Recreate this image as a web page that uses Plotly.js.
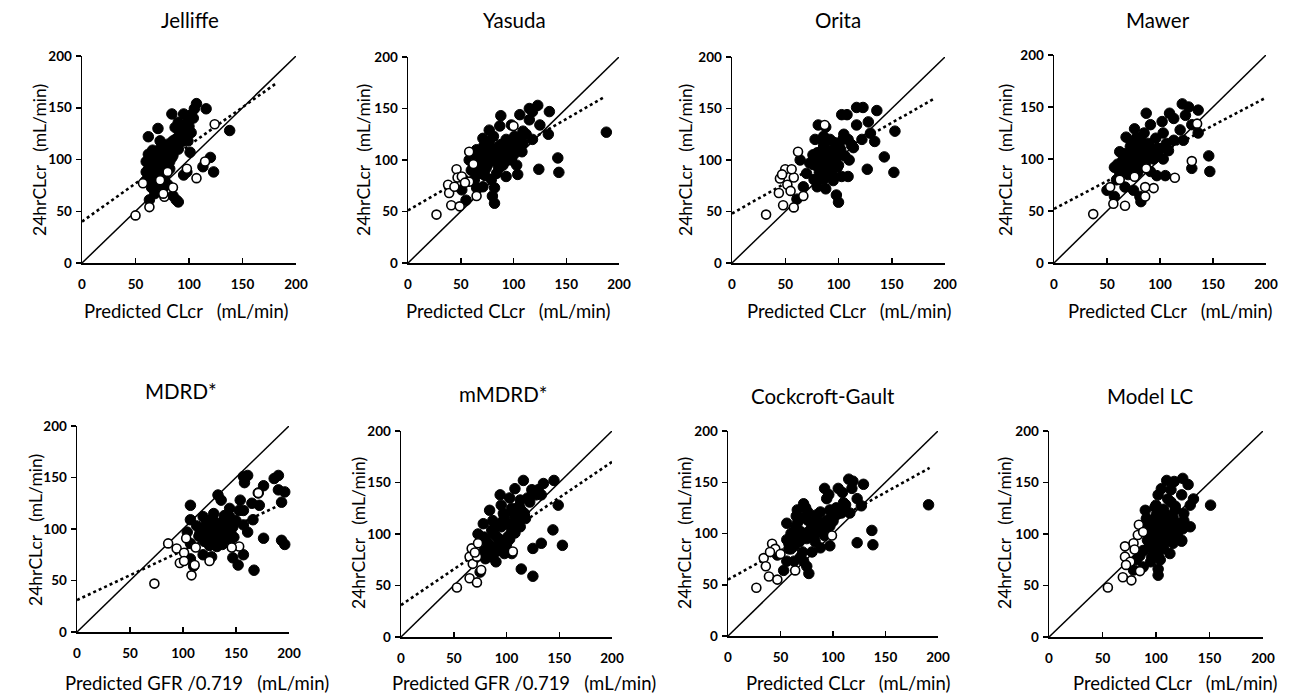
<!DOCTYPE html>
<html>
<head>
<meta charset="utf-8">
<script src="https://cdn.plot.ly/plotly-3.0.1.min.js"></script>
<style>html,body{margin:0;padding:0;background:#fff;}#chart{width:1290px;height:697px;}</style>
</head>
<body>
<div id="chart"></div>
<script>
// ---------------- DATA ----------------
var panelTitles = ["Jelliffe", "Yasuda", "Orita", "Mawer", "MDRD*", "mMDRD*", "Cockcroft-Gault", "Model LC"];
var xTitles = ["Predicted CLcr   (mL/min)", "Predicted CLcr   (mL/min)", "Predicted CLcr   (mL/min)", "Predicted CLcr   (mL/min)",
               "Predicted GFR /0.719   (mL/min)", "Predicted GFR /0.719   (mL/min)", "Predicted CLcr   (mL/min)", "Predicted CLcr   (mL/min)"];
var yTitle = "24hrCLcr   (mL/min)";
var tickVals = [0, 50, 100, 150, 200];
var identityX = [0, 200];
var identityY = [0, 200];

// Jelliffe
var jelliffeFilledX = [107,116,105,95,84,90,87,71,99,102,98,102,62,73,85,91,99,88,101,79,66,63,60,68,76,84,70,63,76,82,66,71,60,65,70,77,76,68,63,85,88,90,95,98,120,113,123,138,73,74,81,62,65,67,70,72,74,78,80,83,86,88,92,94,96,100,104,68,72,75,78,80,64,66,69,60,73,77,82,85,90,93];
var jelliffeFilledY = [154,149,149,144,144,136,131,130,136,143,128,126,122,118,118,123,118,112,107,109,109,102,98,99,99,102,93,93,90,91,86,83,80,73,77,80,73,67,61,65,61,59,85,88,102,93,88,128,106,112,115,105,100,95,103,97,110,104,96,108,115,120,125,130,122,132,140,88,85,78,86,76,90,80,75,88,92,100,98,104,110,117];
var jelliffeOpenX = [50,63,77,76,85,107,98,115,124,57,80,73];
var jelliffeOpenY = [46,54,64,67,73,82,91,98,134,77,88,80];
var jelliffeFitX = [0, 182];
var jelliffeFitY = [40, 174];

// Yasuda
var yasudaFilledX = [123,115,118,134,106,88,115,125,77,87,98,109,118,133,188,71,81,93,101,65,74,84,93,103,109,58,68,79,87,98,103,142,124,143,104,93,84,65,74,79,82,80,82,71,65,55,51,63,68,90,
                     62,66,70,72,76,78,82,85,88,90,95,97,100,105,108,112,70,75,60,86,92,96,73,77];
var yasudaFilledY = [153,150,147,147,144,143,139,134,129,133,134,128,120,125,127,121,123,120,123,110,107,112,110,113,116,100,97,100,102,100,95,102,91,88,86,84,87,91,92,81,73,65,58,74,73,61,71,81,87,95,
                     95,104,100,114,96,110,105,97,115,107,111,118,105,120,108,125,88,102,90,92,100,103,85,118];
var yasudaOpenX = [27,41,49,38,39,44,46,47,51,58,62,65,100,58,54];
var yasudaOpenY = [47,56,55,76,68,74,91,83,84,108,96,65,133,79,78];
var yasudaFitX = [0, 186];
var yasudaFitY = [51, 161];

// Orita
var oritaFilledX = [123,117,136,103,108,117,128,81,88,105,109,122,130,134,153,78,86,92,98,80,89,114,106,98,143,152,127,109,103,94,83,70,73,83,91,64,80,88,67,61,98,100,77,86,
                    76,80,84,86,88,90,92,94,96,100,102,104,110,112,82,85,89,93,97,101,78,87,95,99];
var oritaFilledY = [151,151,148,144,144,134,137,134,132,125,120,120,126,118,128,120,123,120,113,107,110,112,104,102,103,88,91,84,84,86,91,87,97,99,97,100,74,72,74,62,66,59,81,81,
                    105,100,95,115,104,92,108,99,117,95,110,120,100,115,88,110,100,90,105,112,95,85,80,93];
var oritaOpenX = [32,48,58,50,45,44,52,58,56,62,67,55,87,47];
var oritaOpenY = [47,56,54,91,82,68,76,83,91,108,65,70,134,86];
var oritaFitX = [0, 189];
var oritaFitY = [48, 159];

// Mawer
var mawerFilledX = [121,127,136,87,124,109,113,102,91,76,68,78,103,119,130,136,122,62,72,81,89,97,106,113,65,75,86,94,103,57,68,81,91,97,105,130,146,147,50,57,67,75,81,82,59,
                    60,64,66,70,72,74,78,80,84,88,92,96,100,70,76,82,86,90,62,98,108,85,73,79];
var mawerFilledY = [153,150,147,144,142,144,139,136,133,129,121,121,125,128,133,125,118,107,112,112,115,110,115,118,99,102,104,100,100,92,89,91,88,84,84,91,103,88,70,64,73,70,64,59,80,
                    95,90,105,97,104,110,97,108,100,108,104,120,110,85,92,118,95,112,86,105,108,125,116,87];
var mawerOpenX = [37,56,67,86,94,86,114,130,135,87,53,62,76];
var mawerOpenY = [47,57,55,64,72,73,82,98,134,91,73,80,83];
var mawerFitX = [0, 200];
var mawerFitY = [52, 159];

// MDRD*
var mdrdFilledX = [157,161,158,190,186,176,171,190,196,133,136,193,154,144,157,165,172,107,107,119,127,144,166,113,121,130,138,147,157,161,104,116,125,135,141,107,119,127,144,147,152,157,176,193,196,167,107,110,132,
                   118,122,124,126,128,130,132,134,136,138,140,142,120,125,129,137,145,150,115,123,131,139,148,153];
var mdrdFilledY = [151,152,145,152,149,142,135,138,136,133,128,126,128,120,118,125,123,123,109,112,107,112,109,103,101,102,101,102,104,97,97,96,93,94,89,86,75,73,86,72,65,75,91,89,85,60,71,64,83,
                   98,106,92,100,110,95,105,90,100,108,96,104,88,84,115,85,98,108,93,97,88,113,92,118];
var mdrdOpenX = [73,86,94,103,101,97,101,108,111,153,125,171,112,146];
var mdrdOpenY = [47,86,81,91,77,67,69,55,65,83,69,135,82,82];
var mdrdFitX = [0, 197];
var mdrdFitY = [31, 126];

// mMDRD*
var mmdrdFilledX = [116,145,135,108,124,133,103,94,113,122,84,95,105,114,149,78,87,98,108,117,86,95,105,113,73,79,91,101,144,153,133,125,86,92,98,83,90,105,114,125,75,79,
                    82,88,90,93,96,100,102,104,106,110,112,118,120,85,89,94,99,103,108,128,80,97,115,130];
var mmdrdFilledY = [152,152,149,144,143,138,135,138,133,131,123,128,125,123,128,110,113,117,117,120,104,107,105,107,100,97,97,97,104,89,91,86,88,84,81,78,73,81,66,59,63,84,
                    92,100,108,95,112,90,110,100,122,112,127,115,135,78,82,92,88,95,101,138,76,120,118,143];
var mmdrdOpenX = [53,65,72,65,67,68,73,76,106,72,70];
var mmdrdOpenY = [48,57,53,78,86,71,91,65,83,78,82];
var mmdrdFitX = [0, 200];
var mmdrdFitY = [31, 170];

// Cockcroft-Gault
var cgFilledX = [115,119,129,92,105,118,109,96,72,94,112,123,127,191,66,76,88,97,108,116,56,66,76,85,94,101,60,69,78,88,97,56,66,75,137,123,138,97,88,80,60,69,63,72,75,77,53,56,47,
                 58,62,64,68,70,73,80,82,84,86,90,92,99,103,58,63,71,79,83,93,100,110,65,74];
var cgFilledY = [153,151,148,144,144,144,140,138,129,134,128,134,127,128,123,121,121,123,120,120,110,110,113,113,113,116,100,102,103,102,107,94,94,95,103,91,89,88,86,82,85,77,73,73,68,61,64,73,79,
                 90,98,105,92,115,100,108,96,118,105,110,98,118,125,85,88,82,100,92,104,112,130,117,125];
var cgOpenX = [27,39,47,34,36,42,45,64,99,50,40];
var cgOpenY = [47,58,55,76,68,90,85,64,98,80,82];
var cgFitX = [0, 192];
var cgFitY = [55, 164];

// Model LC
var lcFilledX = [125,110,117,130,105,114,124,102,111,135,132,151,90,99,107,118,126,98,107,116,126,90,101,110,119,132,95,104,113,125,124,92,101,110,116,124,88,98,107,95,104,88,102,102,79,82,113,
                 93,96,100,103,106,109,112,115,120,122,94,97,100,105,108,112,118,96,102,108,114,85,91,99];
var lcFilledY = [154,152,151,148,144,143,138,138,134,134,128,128,123,126,124,124,120,113,116,116,113,109,107,109,107,107,100,99,100,105,94,94,91,93,91,93,84,84,86,73,75,68,66,60,65,75,81,
                 103,110,118,105,120,97,112,102,98,110,88,96,128,113,102,118,127,78,80,94,131,79,115,88];
var lcOpenX = [55,69,77,85,71,71,76,79,83,84,72,80,88];
var lcOpenY = [48,58,55,64,78,88,73,91,99,109,70,85,102];

// ---------------- LAYOUT HELPERS ----------------
var W = 1290, H = 697;
function fx(p) { return p / W; }
function fy(p) { return 1 - p / H; }

var panels = [
  {fx: jelliffeFilledX, fy: jelliffeFilledY, ox: jelliffeOpenX, oy: jelliffeOpenY, rx: jelliffeFitX, ry: jelliffeFitY,
   box: [82, 296, 56, 263], title: [190, 20], xt: [186, 311], yt: [40, 160]},
  {fx: yasudaFilledX, fy: yasudaFilledY, ox: yasudaOpenX, oy: yasudaOpenY, rx: yasudaFitX, ry: yasudaFitY,
   box: [408, 619, 57, 263], title: [514, 20], xt: [508, 311], yt: [364, 160]},
  {fx: oritaFilledX, fy: oritaFilledY, ox: oritaOpenX, oy: oritaOpenY, rx: oritaFitX, ry: oritaFitY,
   box: [732, 945, 57, 263], title: [838, 20], xt: [849, 311], yt: [686, 160]},
  {fx: mawerFilledX, fy: mawerFilledY, ox: mawerOpenX, oy: mawerOpenY, rx: mawerFitX, ry: mawerFitY,
   box: [1054, 1266, 55, 263], title: [1158, 20], xt: [1170, 311], yt: [1006, 160]},
  {fx: mdrdFilledX, fy: mdrdFilledY, ox: mdrdOpenX, oy: mdrdOpenY, rx: mdrdFitX, ry: mdrdFitY,
   box: [77, 289, 426, 632], title: [181, 391], xt: [197, 683], yt: [35, 530]},
  {fx: mmdrdFilledX, fy: mmdrdFilledY, ox: mmdrdOpenX, oy: mmdrdOpenY, rx: mmdrdFitX, ry: mmdrdFitY,
   box: [401, 612, 431, 637], title: [503, 394], xt: [524, 683], yt: [358, 533]},
  {fx: cgFilledX, fy: cgFilledY, ox: cgOpenX, oy: cgOpenY, rx: cgFitX, ry: cgFitY,
   box: [728, 938, 431, 636], title: [823, 396], xt: [848, 683], yt: [684, 533]},
  {fx: lcFilledX, fy: lcFilledY, ox: lcOpenX, oy: lcOpenY, rx: null, ry: null,
   box: [1049, 1263, 431, 637], title: [1150, 396], xt: [1175, 683], yt: [1004, 533]}
];

var FONT = "Lato, 'Open Sans', sans-serif";
var traces = [];
var layout = {
  width: W, height: H,
  margin: {l: 0, r: 0, t: 0, b: 0},
  paper_bgcolor: "#ffffff", plot_bgcolor: "rgba(0,0,0,0)",
  showlegend: false,
  font: {family: FONT, color: "#000"},
  annotations: []
};

panels.forEach(function (p, i) {
  var n = i + 1;
  var xa = n === 1 ? "x" : "x" + n;
  var ya = n === 1 ? "y" : "y" + n;
  var xKey = n === 1 ? "xaxis" : "xaxis" + n;
  var yKey = n === 1 ? "yaxis" : "yaxis" + n;

  layout[xKey] = {
    domain: [fx(p.box[0]), fx(p.box[1])], anchor: ya, range: [0, 200],
    tickvals: tickVals, ticks: "inside", ticklen: 5, tickwidth: 1.5, tickcolor: "#000",
    showline: true, linecolor: "#000", linewidth: 1.5, showgrid: false, zeroline: false,
    tickfont: {family: FONT, size: 13.5, color: "#000", weight: "bold"}, ticklabelstandoff: 8,
    fixedrange: true
  };
  layout[yKey] = {
    domain: [fy(p.box[3]), fy(p.box[2])], anchor: xa, range: [0, 200],
    tickvals: tickVals, ticks: "outside", ticklen: 5, tickwidth: 1.5, tickcolor: "#000",
    showline: true, linecolor: "#000", linewidth: 1.5, showgrid: false, zeroline: false,
    tickfont: {family: FONT, size: 13.5, color: "#000", weight: "bold"}, ticklabelstandoff: 1,
    fixedrange: true
  };

  traces.push({type: "scatter", mode: "lines", x: identityX, y: identityY, xaxis: xa, yaxis: ya,
               line: {color: "#000", width: 1.5}, hoverinfo: "skip", cliponaxis: false});
  if (p.rx) {
    traces.push({type: "scatter", mode: "lines", x: p.rx, y: p.ry, xaxis: xa, yaxis: ya,
                 line: {color: "#000", width: 2.6, dash: "dot"}, hoverinfo: "skip", cliponaxis: false});
  }
  traces.push({type: "scatter", mode: "markers", x: p.fx, y: p.fy, xaxis: xa, yaxis: ya, cliponaxis: false,
               marker: {symbol: "circle", size: 10.5, color: "#000", line: {color: "#000", width: 1}}});
  traces.push({type: "scatter", mode: "markers", x: p.ox, y: p.oy, xaxis: xa, yaxis: ya, cliponaxis: false,
               marker: {symbol: "circle", size: 9, color: "#fff", line: {color: "#000", width: 1.6}}});

  layout.annotations.push({text: panelTitles[i], xref: "paper", yref: "paper", x: fx(p.title[0]), y: fy(p.title[1]),
    xanchor: "center", yanchor: "middle", showarrow: false, font: {family: FONT, size: 20.5, color: "#000"}});
  layout.annotations.push({text: xTitles[i], xref: "paper", yref: "paper", x: fx(p.xt[0]), y: fy(p.xt[1]),
    xanchor: "center", yanchor: "middle", showarrow: false, font: {family: FONT, size: 18.5, color: "#000"}});
  layout.annotations.push({text: yTitle, xref: "paper", yref: "paper", x: fx(p.yt[0]), y: fy(p.yt[1]),
    xanchor: "center", yanchor: "middle", textangle: -90, showarrow: false, font: {family: FONT, size: 17.5, color: "#000"}});
});

Plotly.newPlot("chart", traces, layout, {displayModeBar: false, staticPlot: true});
</script>
</body>
</html>
